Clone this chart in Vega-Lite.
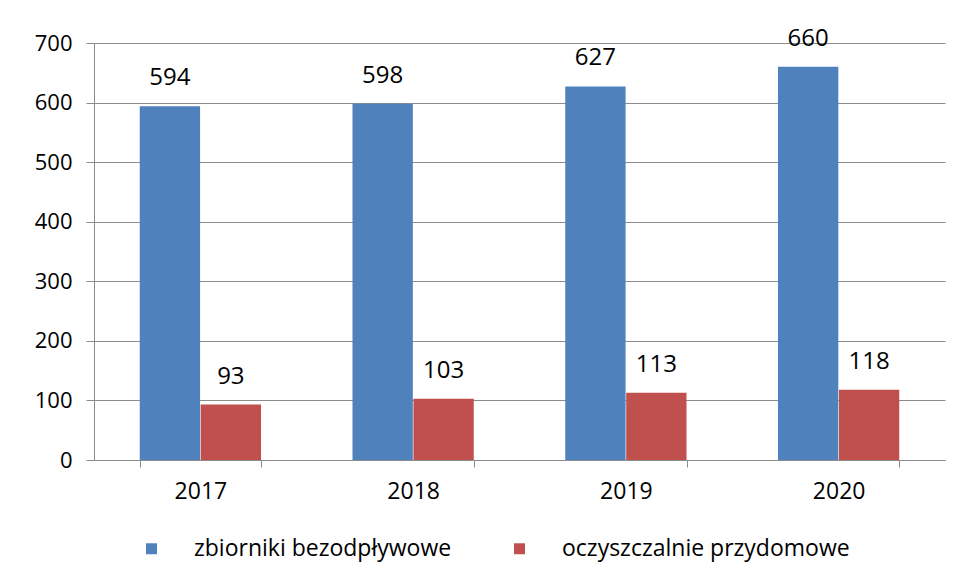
{
  "$schema": "https://vega.github.io/schema/vega-lite/v6.json",
  "width": 851,
  "height": 417,
  "autosize": {"type": "none"},
  "padding": {"left": 94, "top": 43, "right": 17, "bottom": 123},
  "background": "white",
  "config": {
    "font": "Open Sans",
    "view": {"stroke": null},
    "axis": {"labelFont": "Open Sans", "labelColor": "#000000", "gridColor": "#8c8c8c", "domainColor": "#8c8c8c", "tickColor": "#8c8c8c"}
  },
  "data": {
    "values": [
      {"year": "2017", "series": "zbiorniki bezodpływowe", "value": 594},
      {"year": "2017", "series": "oczyszczalnie przydomowe", "value": 93},
      {"year": "2018", "series": "zbiorniki bezodpływowe", "value": 598},
      {"year": "2018", "series": "oczyszczalnie przydomowe", "value": 103},
      {"year": "2019", "series": "zbiorniki bezodpływowe", "value": 627},
      {"year": "2019", "series": "oczyszczalnie przydomowe", "value": 113},
      {"year": "2020", "series": "zbiorniki bezodpływowe", "value": 660},
      {"year": "2020", "series": "oczyszczalnie przydomowe", "value": 118}
    ]
  },
  "encoding": {
    "x": {
      "field": "year", "type": "nominal",
      "scale": {"paddingInner": 0.43, "paddingOuter": 0.215},
      "axis": {"title": null, "labelAngle": 0, "labelFontSize": 23, "tickBand": "extent", "tickSize": 7, "labelPadding": 13, "domainColor": "#8c8c8c", "grid": false}
    },
    "xOffset": {
      "field": "series", "type": "nominal",
      "sort": ["zbiorniki bezodpływowe", "oczyszczalnie przydomowe"],
      "scale": {"paddingInner": 0.01}
    },
    "y": {
      "field": "value", "type": "quantitative",
      "scale": {"domain": [0, 700], "nice": false},
      "axis": {"title": null, "labelFontSize": 22, "values": [0, 100, 200, 300, 400, 500, 600, 700], "tickSize": 8, "labelPadding": 14, "grid": true}
    }
  },
  "layer": [
    {
      "mark": {"type": "bar"},
      "encoding": {
        "color": {
          "field": "series", "type": "nominal",
          "sort": ["zbiorniki bezodpływowe", "oczyszczalnie przydomowe"],
          "scale": {"domain": ["zbiorniki bezodpływowe", "oczyszczalnie przydomowe"], "range": ["#4F81BD", "#C0504D"]},
          "legend": {
            "title": null, "orient": "none", "direction": "horizontal",
            "legendX": 46, "legendY": 494,
            "symbolType": "square", "symbolSize": 120, "symbolStrokeWidth": 0,
            "labelFontSize": 23, "labelFont": "Open Sans", "labelColor": "#000000", "labelLimit": 0,
            "labelOffset": 31, "columnPadding": 56
          }
        }
      }
    },
    {
      "mark": {"type": "text", "fontSize": 24, "font": "Open Sans", "color": "#000000", "baseline": "middle", "dy": -28},
      "encoding": {
        "text": {"field": "value", "type": "quantitative"}
      }
    }
  ]
}
